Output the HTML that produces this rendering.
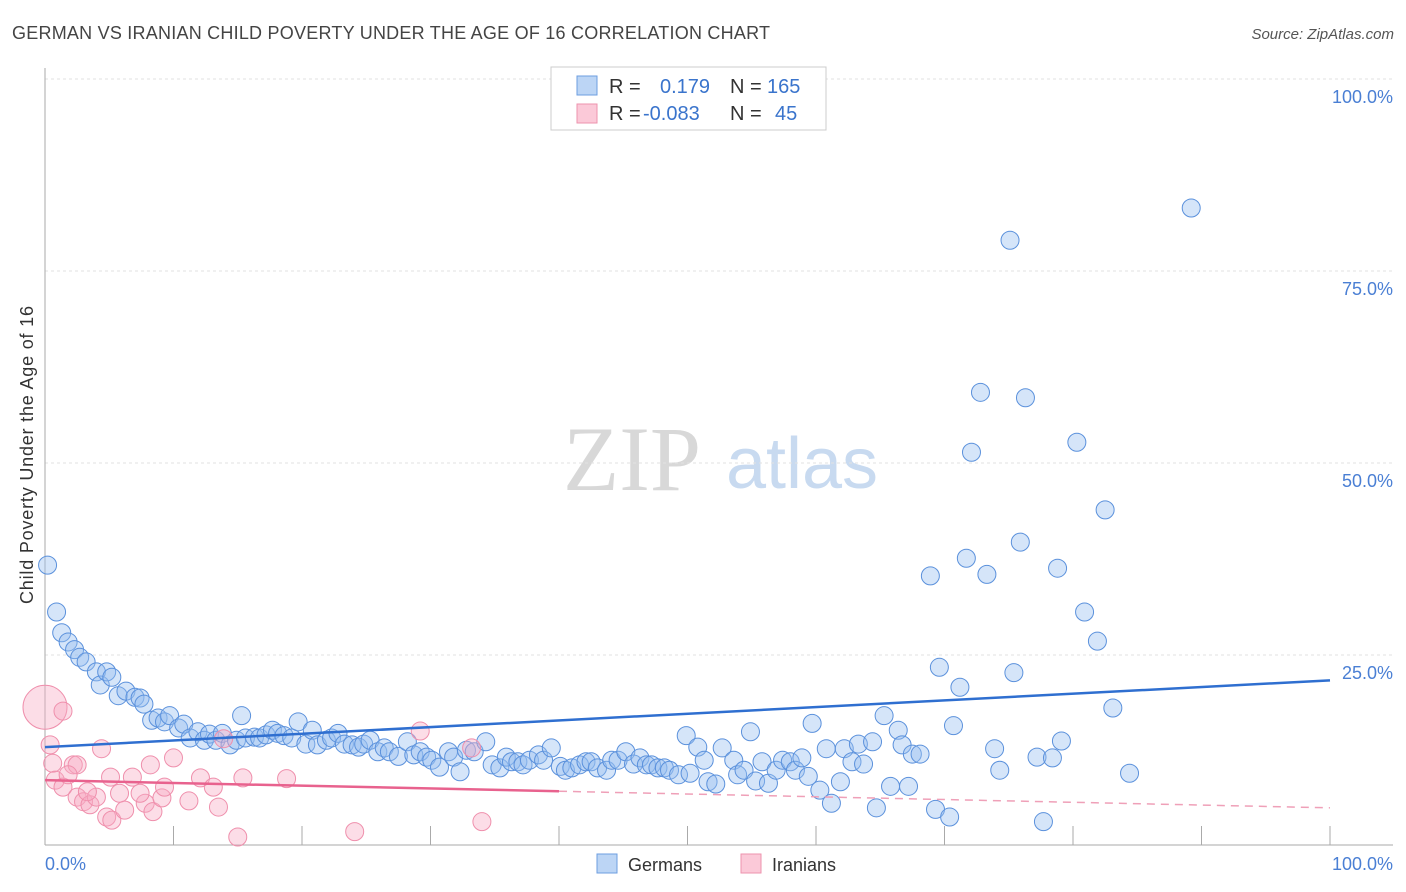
<!DOCTYPE html>
<html><head><meta charset="utf-8">
<style>
html,body{margin:0;padding:0;background:#fff;}
body{width:1406px;height:892px;overflow:hidden;font-family:"Liberation Sans",sans-serif;}
svg{display:block}
</style></head>
<body>
<svg id="chart" width="1406" height="892" xmlns="http://www.w3.org/2000/svg">
<text x="12" y="39" font-size="18" fill="#444" textLength="758" font-family="Liberation Sans, sans-serif">GERMAN VS IRANIAN CHILD POVERTY UNDER THE AGE OF 16 CORRELATION CHART</text>
<text x="1394" y="39" font-size="15" fill="#555" text-anchor="end" font-style="italic">Source: ZipAtlas.com</text>
<g>
<text x="632" y="490" font-size="92" fill="#d8d8d8" text-anchor="middle" font-family="Liberation Serif, serif">ZIP</text>
<text x="802" y="488" font-size="72" fill="#c8daf0" text-anchor="middle">atlas</text>
</g>
<g id="grid"></g>
<g id="axes"></g>
<g id="pts"></g>
<g id="trends"></g>
<text transform="translate(33,455) rotate(-90)" font-size="18" fill="#333" text-anchor="middle" textLength="298">Child Poverty Under the Age of 16</text>
<text x="45" y="870" font-size="18" fill="#4a7fd4">0.0%</text>
<text x="1393" y="870" font-size="18" fill="#4a7fd4" text-anchor="end">100.0%</text>
<g>
<rect x="551" y="67" width="275" height="63" fill="#fff" stroke="#ccc"/>
<rect x="577" y="76" width="20" height="19" fill="#bcd5f5" stroke="#6d9ee0"/>
<rect x="577" y="104" width="20" height="19" fill="#fbc9d8" stroke="#ee93ae"/>
<text x="609" y="93" font-size="20" fill="#333">R =</text>
<text x="660" y="93" font-size="20" fill="#3a74cc">0.179</text>
<text x="730" y="93" font-size="20" fill="#333">N =</text>
<text x="767" y="93" font-size="20" fill="#3a74cc">165</text>
<text x="609" y="120" font-size="20" fill="#333">R =</text>
<text x="643" y="120" font-size="20" fill="#3a74cc">-0.083</text>
<text x="730" y="120" font-size="20" fill="#333">N =</text>
<text x="775" y="120" font-size="20" fill="#3a74cc">45</text>
</g>
<g>
<rect x="597" y="854" width="20" height="19" fill="#bcd5f5" stroke="#6d9ee0"/>
<text x="628" y="871" font-size="18" fill="#333">Germans</text>
<rect x="741" y="854" width="20" height="19" fill="#fbc9d8" stroke="#ee93ae"/>
<text x="772" y="871" font-size="18" fill="#333">Iranians</text>
</g>
</svg>
<script>
const yTicks=[25,50,75,100];
const yTickLabels=["25.0%","50.0%","75.0%","100.0%"];
const xTicks=[10,20,30,40,50,60,70,80,90,100];
const germanX=[0.2,0.9,1.3,1.8,2.3,2.7,3.2,4.0,4.3,4.8,5.2,5.7,6.3,7.0,7.4,7.7,8.3,8.8,9.3,9.7,10.4,10.8,11.3,11.9,12.4,12.8,13.3,13.8,14.4,14.9,15.3,15.6,16.3,16.7,17.2,17.7,18.1,18.6,19.2,19.7,20.3,20.8,21.2,21.9,22.3,22.8,23.3,23.9,24.4,24.8,25.3,25.9,26.4,26.8,27.5,28.2,28.7,29.2,29.7,30.1,30.7,31.4,31.8,32.3,32.8,33.4,34.3,34.8,35.4,35.9,36.3,36.8,37.2,37.7,38.4,38.8,39.4,40.1,40.5,41.0,41.6,42.1,42.5,43.0,43.7,44.1,44.6,45.2,45.8,46.3,46.8,47.2,47.7,48.2,48.6,49.3,49.9,50.2,50.8,51.3,51.6,52.2,52.7,53.6,53.9,54.4,54.9,55.3,55.8,56.3,56.9,57.4,58.0,58.4,58.9,59.4,59.7,60.3,60.8,61.2,61.9,62.2,62.8,63.3,63.7,64.4,64.7,65.3,65.8,66.4,66.7,67.2,67.5,68.1,68.9,69.3,69.6,70.4,70.7,71.2,71.7,72.1,72.8,73.3,73.9,74.3,75.1,75.4,75.9,76.3,77.2,77.7,78.4,78.8,79.1,80.3,80.9,81.9,82.5,83.1,84.4,89.2];
const germanY=[36.7,30.6,27.9,26.7,25.7,24.7,24.1,22.8,21.1,22.8,22.1,19.7,20.3,19.5,19.4,18.6,16.5,16.8,16.3,17.1,15.5,16.0,14.2,15.0,13.9,14.7,13.9,14.8,13.3,13.9,17.1,14.2,14.3,14.2,14.6,15.2,14.8,14.5,14.2,16.3,13.4,15.2,13.3,13.9,14.2,14.8,13.4,13.3,13.0,13.4,13.9,12.4,12.9,12.4,11.8,13.7,12.0,12.4,11.7,11.3,10.4,12.4,11.7,9.8,12.6,12.4,13.7,10.7,10.3,11.7,11.1,11.1,10.7,11.3,12.0,11.3,12.9,10.5,10.0,10.3,10.7,11.1,11.1,10.3,10.0,11.3,11.3,12.4,10.8,11.6,10.7,10.7,10.3,10.3,10.0,9.4,14.5,9.6,13.0,11.3,8.5,8.2,12.9,11.3,9.4,10.0,15.0,8.6,11.1,8.3,10.0,11.3,11.1,10.0,11.6,9.2,16.1,7.4,12.8,5.7,8.5,12.8,11.1,13.4,10.8,13.7,5.1,17.1,7.9,15.2,13.3,7.9,12.1,12.1,35.3,4.9,23.4,3.9,15.8,20.8,37.6,51.4,59.2,35.5,12.8,10.0,79.0,22.7,39.7,58.5,11.7,3.3,11.6,36.3,13.8,52.7,30.6,26.8,43.9,18.1,9.6,83.2];
const iranX=[0,1.4,0.4,0.6,4.4,2.2,2.5,0.8,1.4,2.5,3.0,3.5,4.0,5.1,4.8,5.2,5.8,6.2,6.8,7.8,8.2,8.4,9.1,9.3,10.0,11.2,12.1,13.1,13.5,13.9,15.0,15.4,18.8,24.1,29.2,33.2,34.0,1.8,3.3,7.4];
const iranY=[18.2,17.7,13.3,10.9,12.8,10.7,10.7,8.7,7.8,6.5,5.9,5.5,6.5,9.1,3.9,3.5,7.0,4.8,9.1,5.7,10.7,4.6,6.4,7.8,11.6,6.0,9.0,7.8,5.2,14.1,1.3,9.0,8.9,2.0,15.1,12.9,3.3,9.4,7.2,7.0];
const iranSize=[22,9,9,9,9,9,9,9,9,9,9,9,9,9,9,9,9,9,9,9,9,9,9,9,9,9,9,9,9,9,9,9,9,9,9,9,9,9,9,9];
const germanTrend=[13.0,21.7];
const iranTrend=[8.7,5.1];
const iranSolidEnd=40;

const X=v=>45+v*12.85;
const Y=v=>847-v*7.68;
const NS="http://www.w3.org/2000/svg";
function mk(tag,parent,attrs){const e=document.createElementNS(NS,tag);for(const k in attrs)e.setAttribute(k,attrs[k]);document.getElementById(parent).appendChild(e);return e;}

yTicks.forEach((t,i)=>{
  const l=mk('line','grid',{x1:45,x2:1393,y1:Y(t),y2:Y(t),stroke:'#e2e2e2','stroke-dasharray':'3,3'});
  
  
  const tx=mk('text','grid',{x:1393,y:Y(t)+24,'font-size':18,fill:'#4a7fd4','text-anchor':'end'});
  tx.textContent=yTickLabels[i];
  
  
});
let a=mk('line','axes',{x1:45,x2:45,y1:68,y2:845,stroke:'#aaa'});


a=mk('line','axes',{x1:45,x2:1393,y1:845,y2:845,stroke:'#aaa'});


xTicks.forEach(t=>{
  const l=mk('line','axes',{x1:X(t),x2:X(t),y1:826,y2:845,stroke:'#aaa'});
  
  
});
germanX.forEach((v,i)=>{
  const c=mk('circle','pts',{cx:X(v),cy:Y(germanY[i]),r:9,fill:'rgba(150,190,240,0.4)',stroke:'#5b91dc','stroke-width':1});
  
  
});
iranX.forEach((v,i)=>{
  const c=mk('circle','pts',{cx:X(v),cy:Y(iranY[i]),r:iranSize[i],fill:'rgba(248,170,195,0.4)',stroke:'#ef8fac','stroke-width':1});
  
  
});
let t=mk('line','trends',{x1:X(0),y1:Y(germanTrend[0]),x2:X(100),y2:Y(germanTrend[1]),stroke:'#2f6fd0','stroke-width':2.5});


const iy=x=>iranTrend[0]+(iranTrend[1]-iranTrend[0])*x/100;
t=mk('line','trends',{x1:X(0),y1:Y(iy(0)),x2:X(iranSolidEnd),y2:Y(iy(iranSolidEnd)),stroke:'#e8628e','stroke-width':2.5});


t=mk('line','trends',{x1:X(iranSolidEnd),y1:Y(iy(iranSolidEnd)),x2:X(100),y2:Y(iy(100)),stroke:'#efa0b8','stroke-width':1.5,'stroke-dasharray':'8,6'});


</script>
</body></html>
